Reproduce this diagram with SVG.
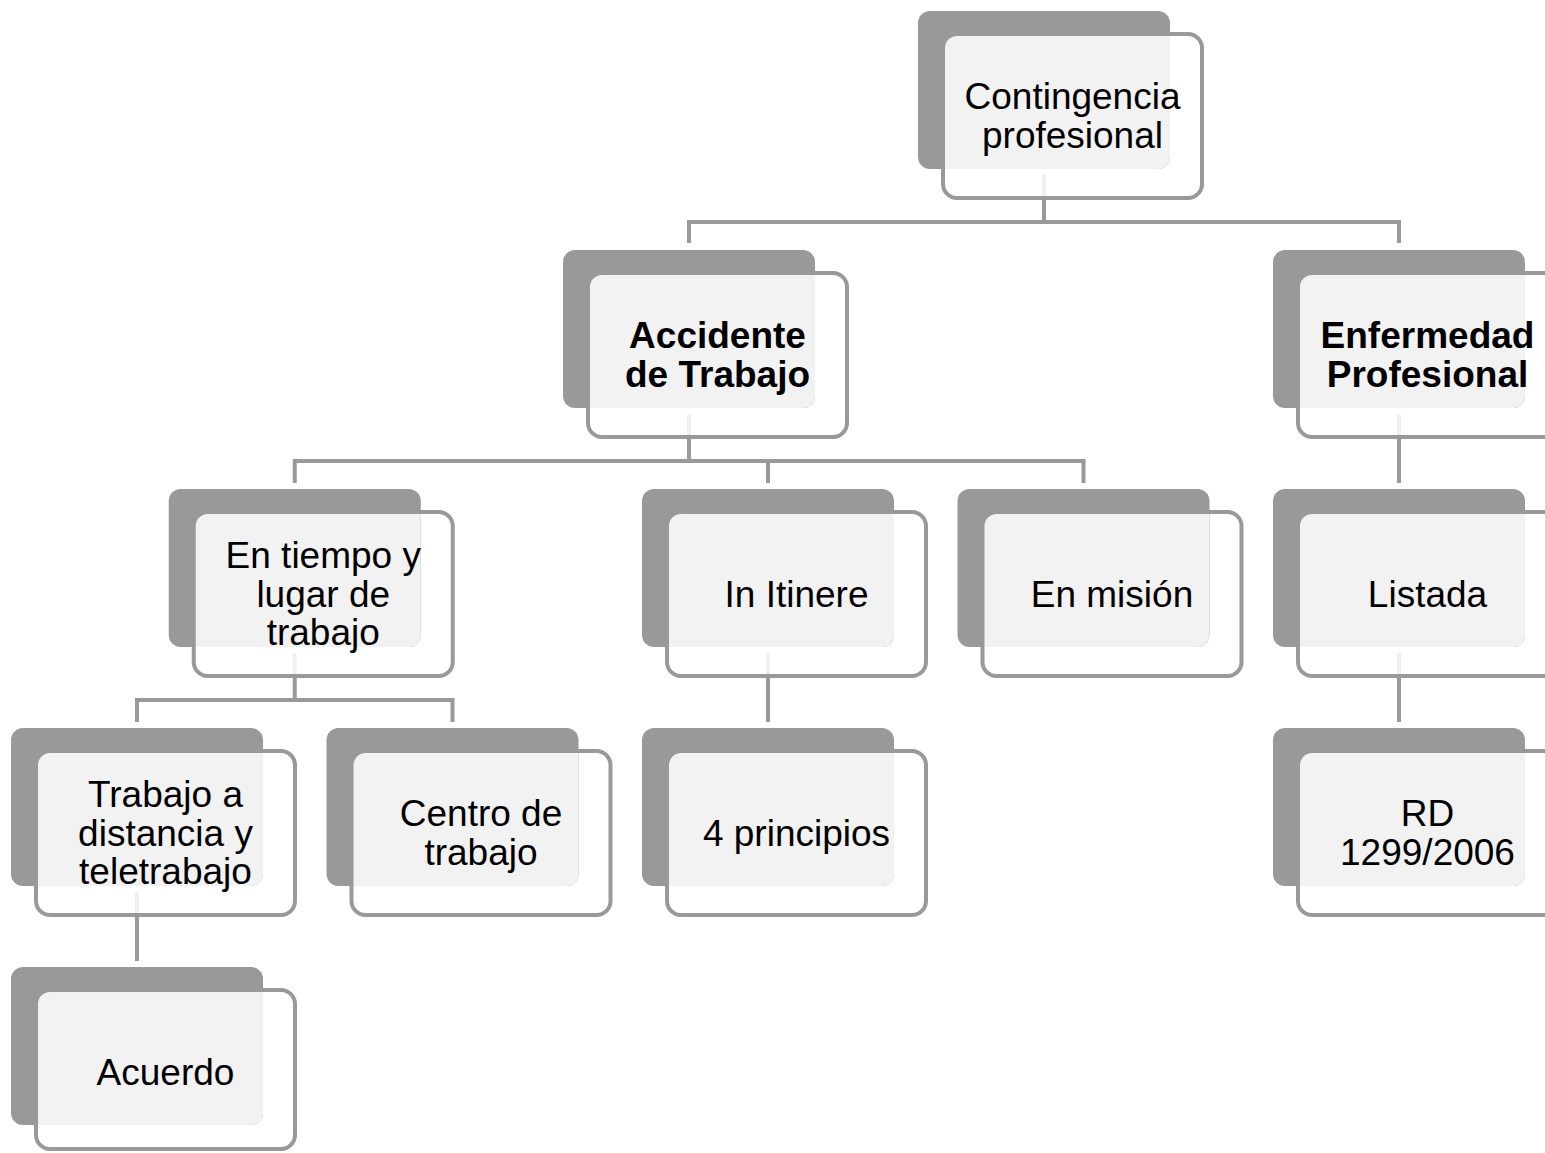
<svg xmlns="http://www.w3.org/2000/svg" xmlns:xlink="http://www.w3.org/1999/xlink" width="1545" height="1153" viewBox="0 0 1545 1153">
<style>
.conn{fill:none;stroke:#999999;stroke-width:4;stroke-linejoin:miter}
.outer{fill:#ffffff;fill-opacity:0.85;stroke:#999999;stroke-width:4}
.dark{fill:#999999}
.light{fill:#f2f2f2}
.t{font-family:"Liberation Sans",Arial,sans-serif;font-size:37px;fill:#000000;text-anchor:middle}
.b{font-weight:bold}
</style>
<defs>
<g id="card">
<rect class="outer" x="25" y="23" width="259" height="164" rx="14"/>
<rect class="dark" x="0" y="0" width="252" height="158" rx="12"/>
<path class="light" d="M39,25 H252 V146 A12 12 0 0 1 240,158 H27 V37 A12 12 0 0 1 39,25 Z"/>
</g>
<g id="cardShort">
<rect class="outer" x="25" y="23" width="259" height="159" rx="14"/>
<rect class="dark" x="0" y="0" width="252" height="158" rx="12"/>
<path class="light" d="M39,25 H252 V146 A12 12 0 0 1 240,158 H27 V37 A12 12 0 0 1 39,25 Z"/>
</g>
</defs>
<g id="connectors">
<path class="conn" d="M1044,174 V222 M689,243 V222 H1399 V243"/>
<path class="conn" d="M689,414 V461 M294.75,483 V461 H1083.5 V483 M768,461 V483"/>
<path class="conn" d="M1399,414 V483"/>
<path class="conn" d="M294.75,653 V700 M137,722 V700 H452.5 V722"/>
<path class="conn" d="M768,653 V722"/>
<path class="conn" d="M1399,653 V722"/>
<path class="conn" d="M137,892 V961"/>
</g>
<g id="n-contingencia">
<use xlink:href="#card" href="#card" x="918" y="11"/>
<text class="t" x="1072.5" y="109.25">Contingencia</text>
<text class="t" x="1072.5" y="147.75">profesional</text>
</g>
<g id="n-accidente">
<use xlink:href="#card" href="#card" x="563" y="250"/>
<text class="t b" x="717.5" y="348.25">Accidente</text>
<text class="t b" x="717.5" y="386.75">de Trabajo</text>
</g>
<g id="n-enfermedad">
<use xlink:href="#card" href="#card" x="1273" y="250"/>
<text class="t b" x="1427.5" y="348.25">Enfermedad</text>
<text class="t b" x="1427.5" y="386.75">Profesional</text>
</g>
<g id="n-tiempo">
<use xlink:href="#card" href="#card" x="168.75" y="489"/>
<text class="t" x="323.25" y="568">En tiempo y</text>
<text class="t" x="323.25" y="606.5">lugar de</text>
<text class="t" x="323.25" y="645">trabajo</text>
</g>
<g id="n-itinere">
<use xlink:href="#card" href="#card" x="642" y="489"/>
<text class="t" x="796.5" y="606.5">In Itinere</text>
</g>
<g id="n-mision">
<use xlink:href="#card" href="#card" x="957.5" y="489"/>
<text class="t" x="1112" y="606.5">En misión</text>
</g>
<g id="n-listada">
<use xlink:href="#card" href="#card" x="1273" y="489"/>
<text class="t" x="1427.5" y="606.5">Listada</text>
</g>
<g id="n-distancia">
<use xlink:href="#card" href="#card" x="11" y="728"/>
<text class="t" x="165.5" y="807">Trabajo a</text>
<text class="t" x="165.5" y="845.5">distancia y</text>
<text class="t" x="165.5" y="884">teletrabajo</text>
</g>
<g id="n-centro">
<use xlink:href="#card" href="#card" x="326.5" y="728"/>
<text class="t" x="481" y="826.25">Centro de</text>
<text class="t" x="481" y="864.75">trabajo</text>
</g>
<g id="n-principios">
<use xlink:href="#card" href="#card" x="642" y="728"/>
<text class="t" x="796.5" y="845.5">4 principios</text>
</g>
<g id="n-rd">
<use xlink:href="#card" href="#card" x="1273" y="728"/>
<text class="t" x="1427.5" y="826.25">RD</text>
<text class="t" x="1427.5" y="864.75">1299/2006</text>
</g>
<g id="n-acuerdo">
<use xlink:href="#cardShort" href="#cardShort" x="11" y="967"/>
<text class="t" x="165.5" y="1084.5">Acuerdo</text>
</g>
</svg>
